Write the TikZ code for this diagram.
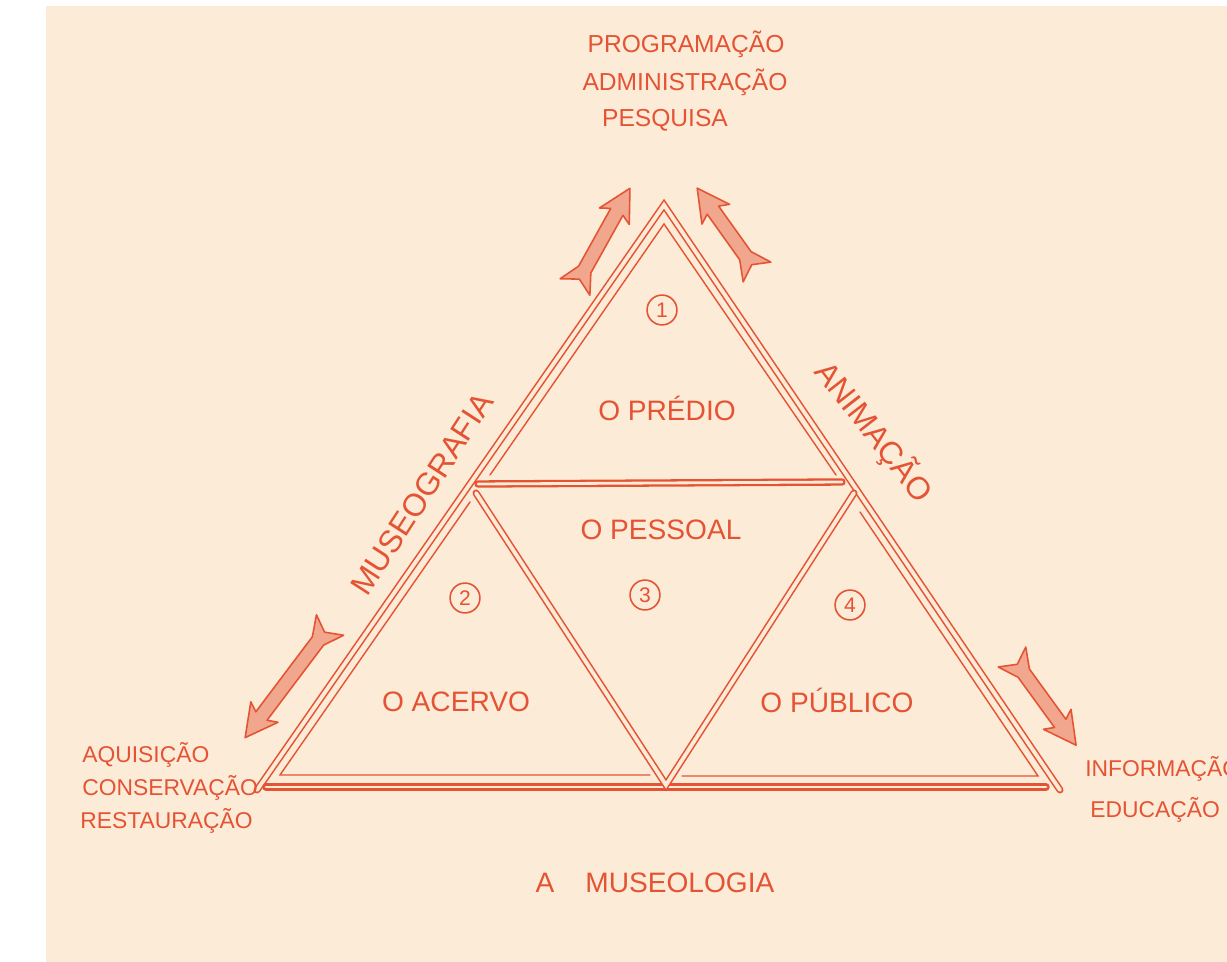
\documentclass[tikz,border=0pt]{standalone}
\usepackage{fontspec}
\setmainfont{Liberation Sans}
\definecolor{ink}{RGB}{228,84,52}
\definecolor{paper}{RGB}{252,235,215}
\newcommand{\fatarrow}[1]{\draw[fat] (#1,0) -- (#1-32,17) -- (#1-27,7) -- (20,7) -- (0,17) -- (9,0) -- (0,-17) -- (20,-7) -- (#1-27,-7) -- (#1-32,-17) -- cycle;}
\begin{document}
\begin{tikzpicture}[x=0.02cm,y=-0.02cm,
  dbl/.style={draw=ink, line width=0.9pt, double=paper, double distance=2.2pt, line cap=round, line join=miter},
  dblthick/.style={draw=ink, line width=1.3pt, double=paper, double distance=1.6pt, line cap=round},
  thinline/.style={draw=ink, line width=0.8pt, line cap=round},
  lbl/.style={text=ink, font=\fontsize{16}{18}\selectfont, inner sep=0pt},
  sidelbl/.style={text=ink, font=\fontsize{13}{15}\selectfont, inner sep=0pt, anchor=west},
  toplbl/.style={text=ink, font=\fontsize{14}{16}\selectfont, inner sep=0pt},
  num/.style={draw=ink, line width=0.9pt, circle, minimum size=17pt, inner sep=0pt, text=ink, font=\fontsize{12}{13}\selectfont},
  fat/.style={draw=ink, line width=0.9pt, fill=ink!45!paper, line join=round}
]
\useasboundingbox (0,0) rectangle (1227,962);
\clip (0,0) rectangle (1227,962);
\fill[white] (0,0) rectangle (1227,962);
\fill[paper] (46,6) rectangle (1227,962);

% frame coordinates
\coordinate (A) at (664,205);
\coordinate (BL) at (257,790);
\coordinate (BR) at (1060,790);
\coordinate (ML) at (478,484);
\coordinate (MR) at (842,482);
\coordinate (VL) at (476,493);
\coordinate (VR) at (854,493);
\coordinate (VB) at (666,785);
\coordinate (BaseL) at (266,787);
\coordinate (BaseR) at (1046,787);

% inner single lines
\draw[thinline] (490,475) -- (664,224) -- (836,475);
\draw[thinline] (470,502) -- (280,775) -- (650,775);
\draw[thinline] (860,512) -- (1038,776) -- (682,776);

% double lines
\draw[dbl] (BL) -- (A) -- (BR);
\draw[dblthick] (BaseL) -- (BaseR);
\draw[dblthick] (ML) -- (MR);
\draw[dbl] (VL) -- (VB) -- (VR);

% fat arrows
\begin{scope}[shift={(575,287)}, rotate=60.9]\fatarrow{113}\end{scope}
\begin{scope}[shift={(757,272)}, rotate=125.5]\fatarrow{103}\end{scope}
\begin{scope}[shift={(330,625)}, rotate=233]\fatarrow{141}\end{scope}
\begin{scope}[shift={(1012,657)}, rotate=-54]\fatarrow{109}\end{scope}

% top texts
\node[toplbl] (prog) at (686,44) {PROGRAMAÇÃO};
\node[toplbl] (adm) at (685,82) {ADMINISTRAÇÃO};
\node[toplbl] (pesq) at (665,120) {PESQUISA};

% numbers
\node[num] (n1) at (662,310) {1};
\node[num] (n2) at (465,598) {2};
\node[num] (n3) at (645,595) {3};
\node[num] (n4) at (850,605) {4};

% region labels
\node[lbl] (predio) at (667,408) {O PRÉDIO};
\node[lbl] (pessoal) at (661,530) {O PESSOAL};
\node[lbl] (acervo) at (456,702) {O ACERVO};
\node[lbl] (publico) at (837,700) {O PÚBLICO};
\node[lbl, font=\fontsize{18}{20}\selectfont, rotate=57] (museo) at (422,494) {MUSEOGRAFIA};
\node[lbl, font=\fontsize{18}{20}\selectfont, rotate=-52] (anim) at (874,432) {ANIMAÇÃO};

% side texts
\node[sidelbl] (aq) at (82,755) {AQUISIÇÃO};
\node[sidelbl] (cons) at (82,788) {CONSERVAÇÃO};
\node[sidelbl] (rest) at (80,821) {RESTAURAÇÃO};
\node[sidelbl] (info) at (1085,769) {INFORMAÇÃO};
\node[sidelbl] (edu) at (1090,810) {EDUCAÇÃO};

\node[lbl] (museol) at (655,883) {A\hspace{1.1em}MUSEOLOGIA};
\end{tikzpicture}
\end{document}
